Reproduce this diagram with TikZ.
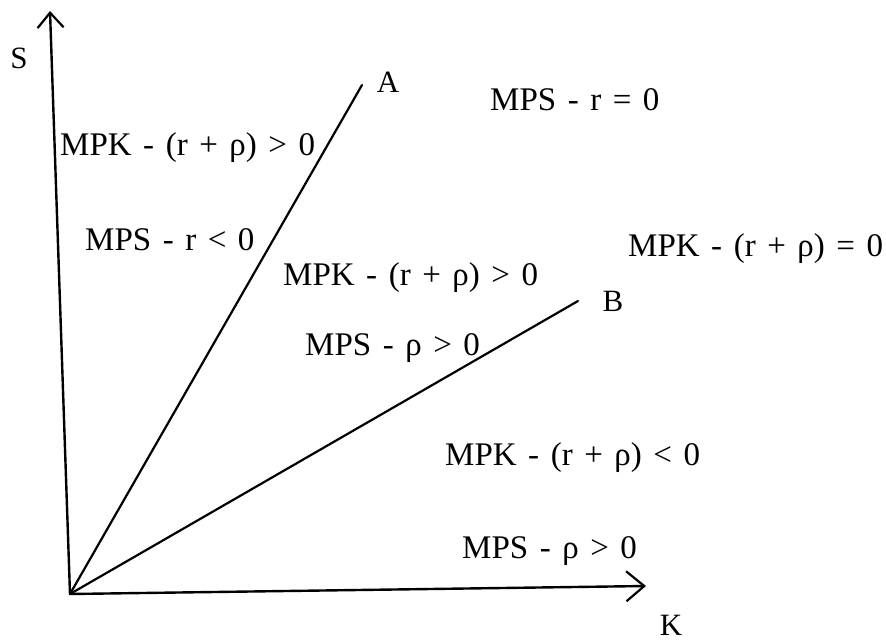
\documentclass[tikz,border=0pt]{standalone}
\usepackage{fontspec}
\setmainfont[WordSpace={1.4}]{Liberation Serif}
\usetikzlibrary{arrows.meta}
\begin{document}
\begin{tikzpicture}[x=1pt,y=-1pt,
  axis/.style={line width=2.4pt,line cap=round},
  ray/.style={line width=2.2pt,line cap=round},
  lbl/.style={inner sep=0pt,anchor=base west,font=\fontsize{33}{40}\selectfont},
  letter/.style={inner sep=0pt,font=\fontsize{31}{38}\selectfont}]
\useasboundingbox (0,0) rectangle (886,641);
\coordinate (O) at (70,594);
\coordinate (Y) at (50,11);
\coordinate (X) at (646,586);
\coordinate (Aend) at (362,85);
\coordinate (Bend) at (578,301);
% axes
\draw[axis,-{Straight Barb[length=15pt,width=26pt,line width=2.2pt]}] (O) -- (Y);
\draw[axis,-{Straight Barb[length=18pt,width=30pt,line width=2.2pt]}] (O) -- (X);
% rays
\draw[ray] (O) -- (Aend);
\draw[ray] (O) -- (Bend);
% letters
\node[letter] (S) at (19,58) {S};
\node[letter] (A) at (388,82) {A};
\node[letter] (B) at (613,301) {B};
\node[letter] (K) at (671,625) {K};
% region labels
\node[lbl] (t1) at (60,155) {MPK - (r + ρ) > 0};
\node[lbl] (t2) at (85,250) {MPS - r < 0};
\node[lbl] (t3) at (490,110) {MPS - r = 0};
\node[lbl] (t4) at (628,256) {MPK - (r + ρ) = 0};
\node[lbl] (t5) at (283,285) {MPK - (r + ρ) > 0};
\node[lbl] (t6) at (305,355) {MPS - ρ > 0};
\node[lbl] (t7) at (445,465) {MPK - (r + ρ) < 0};
\node[lbl] (t8) at (462,558) {MPS - ρ > 0};
\end{tikzpicture}
\end{document}
